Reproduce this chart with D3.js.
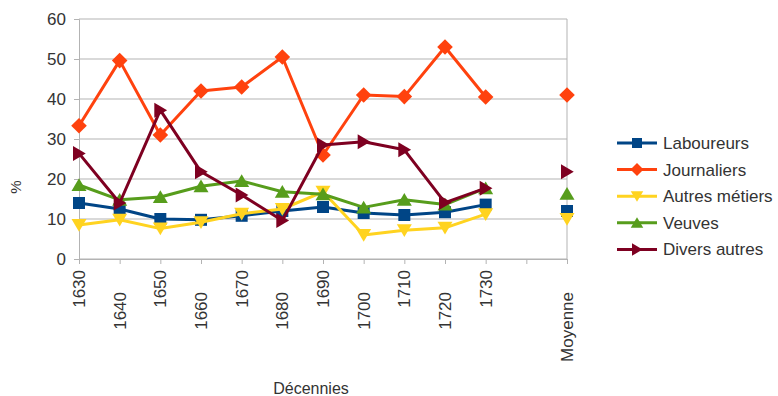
<!DOCTYPE html>
<html lang="fr">
<head>
<meta charset="utf-8">
<title>Décennies</title>
<script src="https://cdn.jsdelivr.net/npm/d3@7"></script>
<style>
body { margin: 0; background: #fff; }
text { font-family: "Liberation Sans", Arial, sans-serif; fill: #333; }
</style>
</head>
<body>
<script>
var w = 778, h = 396;

// categories (one empty slot before the average)
var decades = ["1630","1640","1650","1660","1670","1680","1690","1700","1710","1720","1730","","Moyenne"];
var yTicks = [0,10,20,30,40,50,60];

// series values, null = no point
var laboureurs = [14, 12.5, 10, 9.8, 10.8, 12, 13, 11.5, 11, 11.7, 13.6, null, 12];
var journaliers = [33.3, 49.6, 31, 42, 43, 50.5, 26, 41, 40.6, 53, 40.5, null, 41];
var autresMetiers = [8.5, 9.8, 7.6, 9.2, 11.3, 12.5, 16.8, 6, 7.2, 7.8, 11.2, null, 10];
var veuves = [18.5, 14.8, 15.5, 18.2, 19.5, 16.8, 16.2, 12.9, 14.8, 13.6, 17.7, null, 16.3];
var diversAutres = [26.4, 14, 37.2, 21.8, 16, 9.6, 28.5, 29.3, 27.3, 14.1, 17.7, null, 21.8];

var seriesNames = ["Laboureurs","Journaliers","Autres métiers","Veuves","Divers autres"];
var seriesValues = [laboureurs, journaliers, autresMetiers, veuves, diversAutres];
var colors = ["#004586","#ff420e","#ffd320","#579d1c","#7e0021"];
var shapes = ["square","diamond","down","up","right"];

var plotLeft = 79, plotRight = 567, plotTop = 19, plotBottom = 259;

var svg = d3.select("body").append("svg")
  .attr("width", w)
  .attr("height", h);

var xScale = d3.scalePoint().domain(d3.range(decades.length)).range([plotLeft, plotRight]);
var yScale = d3.scaleLinear().domain([0, 60]).range([plotBottom, plotTop]);

// marker path centred on 0,0
function marker(shape, s) {
  if (shape == "square") return "M" + (-s) + "," + (-s) + "h" + (2*s) + "v" + (2*s) + "h" + (-2*s) + "Z";
  if (shape == "diamond") { var d = s * 1.3; return "M0," + (-d) + "L" + d + ",0L0," + d + "L" + (-d) + ",0Z"; }
  var t = s * 1.25;
  if (shape == "down") return "M" + (-t) + "," + (-t*0.8) + "L" + t + "," + (-t*0.8) + "L0," + (t*0.9) + "Z";
  if (shape == "up") return "M" + (-t) + "," + (t*0.8) + "L" + t + "," + (t*0.8) + "L0," + (-t*0.9) + "Z";
  return "M" + (-t*0.8) + "," + (-t) + "L" + (-t*0.8) + "," + t + "L" + (t*0.9) + ",0Z";
}

// gridlines
svg.append("g")
  .selectAll("line")
  .data(yTicks)
  .enter()
  .append("line")
  .attr("x1", plotLeft).attr("x2", plotRight)
  .attr("y1", function(d){ return yScale(d); })
  .attr("y2", function(d){ return yScale(d); })
  .attr("stroke", "#b3b3b3")
  .attr("stroke-width", 1);

// right border
svg.append("line")
  .attr("x1", plotRight).attr("x2", plotRight)
  .attr("y1", plotTop).attr("y2", plotBottom)
  .attr("stroke", "#b3b3b3");

// y axis
var yAxis = d3.axisLeft(yScale).tickValues(yTicks).tickSize(5).tickPadding(8);
var gy = svg.append("g")
  .attr("transform", "translate(" + plotLeft + ",0)")
  .call(yAxis);
gy.select(".domain").attr("stroke", "#b3b3b3");
gy.selectAll(".tick line").attr("stroke", "#b3b3b3");
gy.selectAll("text").attr("font-size", "17px").attr("font-family", null).attr("fill", "#333");

// x axis
var xAxis = d3.axisBottom(xScale).tickSize(5).tickFormat("");
var gx = svg.append("g")
  .attr("transform", "translate(0," + plotBottom + ")")
  .call(xAxis);
gx.select(".domain").attr("stroke", "#b3b3b3");
gx.selectAll(".tick line").attr("stroke", "#b3b3b3");

// staggered rotated labels
var k = 0;
decades.forEach(function(label, i) {
  if (label === "") return;
  var yy = (k % 2 == 0) ? 270 : 292;
  k++;
  svg.append("text")
    .attr("transform", "translate(" + xScale(i) + "," + yy + ") rotate(-90)")
    .attr("text-anchor", "end")
    .attr("dy", "0.35em")
    .attr("font-size", "17px")
    .text(label);
});

// axis titles
svg.append("text")
  .attr("transform", "translate(16,187) rotate(-90)")
  .attr("text-anchor", "middle")
  .attr("dy", "0.35em")
  .attr("font-size", "15px")
  .text("%");

svg.append("text")
  .attr("x", 311).attr("y", 394)
  .attr("text-anchor", "middle")
  .attr("font-size", "16px")
  .text("Décennies");

// series lines and markers
var line = d3.line()
  .defined(function(d){ return d != null; })
  .x(function(d, i){ return xScale(i); })
  .y(function(d){ return yScale(d); });

seriesValues.forEach(function(vals, s) {
  svg.append("path")
    .datum(vals)
    .attr("d", line)
    .attr("fill", "none")
    .attr("stroke", colors[s])
    .attr("stroke-width", 3)
    .attr("stroke-linejoin", "round");
  svg.append("g")
    .selectAll("path")
    .data(vals.map(function(v, i){ return {v: v, i: i}; }).filter(function(d){ return d.v != null; }))
    .enter()
    .append("path")
    .attr("transform", function(d){ return "translate(" + xScale(d.i) + "," + yScale(d.v) + ")"; })
    .attr("d", marker(shapes[s], 6))
    .attr("fill", colors[s]);
});

// legend
var legend = svg.append("g");
seriesNames.forEach(function(name, s) {
  var yy = 143 + s * 26.6;
  legend.append("line")
    .attr("x1", 617).attr("x2", 657)
    .attr("y1", yy).attr("y2", yy)
    .attr("stroke", colors[s]).attr("stroke-width", 3);
  legend.append("path")
    .attr("transform", "translate(637," + yy + ")")
    .attr("d", marker(shapes[s], 5))
    .attr("fill", colors[s]);
  legend.append("text")
    .attr("x", 663).attr("y", yy)
    .attr("dy", "0.35em")
    .attr("font-size", "17px")
    .text(name);
});
</script>
</body>
</html>
